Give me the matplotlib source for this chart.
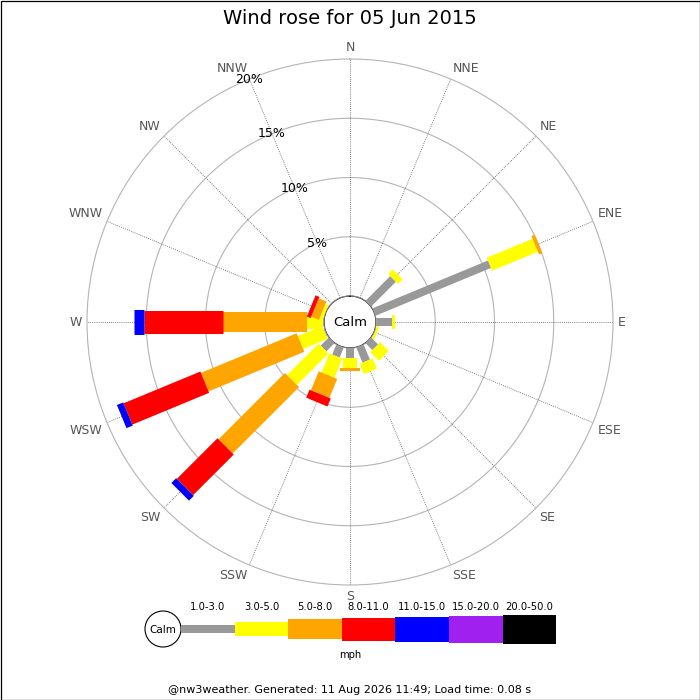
import numpy as np
import matplotlib
matplotlib.use('Agg')
import matplotlib.pyplot as plt
from matplotlib.patches import Circle, Rectangle

# wind rose for 05 Jun 2015, % of time per direction and speed class (mph)
directions = ['N', 'NNE', 'NE', 'ENE', 'E', 'ESE', 'SE', 'SSE',
              'S', 'SSW', 'SW', 'WSW', 'W', 'WNW', 'NW', 'NNW']
speed_bins = ['1.0-3.0', '3.0-5.0', '5.0-8.0', '8.0-11.0',
              '11.0-15.0', '15.0-20.0', '20.0-50.0']

pct_1_3   = [0, 0, 2.95, 10.55, 1.37, 0.05, 0.82, 1.38, 0.87, 0.92, 0.97, 0.10, 0.10, 0, 0, 0]
pct_3_5   = [0, 0, 0.55, 4.18, 0.23, 0.20, 1.03, 0.93, 0.84, 1.74, 3.76, 2.23, 1.35, 0.30, 0, 0]
pct_5_8   = [0, 0, 0, 0.30, 0, 0, 0, 0, 0.19, 1.73, 7.92, 8.74, 7.05, 0.70, 0, 0]
pct_8_11  = [0, 0, 0, 0, 0, 0, 0, 0, 0, 0.73, 4.85, 7.02, 6.70, 0.35, 0, 0]
pct_11_15 = [0, 0, 0, 0, 0, 0, 0, 0, 0, 0, 0.57, 0.57, 0.80, 0, 0, 0]
pct_15_20 = [0] * 16
pct_20_50 = [0] * 16
table = [pct_1_3, pct_3_5, pct_5_8, pct_8_11, pct_11_15, pct_15_20, pct_20_50]

ring_pcts = [5, 10, 15, 20]

colours = ['#999999', '#ffff00', '#ffa500', '#ff0000', '#0000ff', '#a020f0', '#000000']
bar_px = [8, 14, 20, 23, 25, 27, 29]   # bar thickness per class, pixels

W_PX = 700
fig = plt.figure(figsize=(7, 7), dpi=100)

# polar area: centre (350,322), outer ring radius 263 px, calm circle 26 px
R_PX, CALM_PX = 263, 26
rmax = 20
calm_r = rmax * CALM_PX / (R_PX - CALM_PX)
ax = fig.add_axes([(350 - R_PX) / W_PX, (W_PX - 322 - R_PX) / W_PX,
                   2 * R_PX / W_PX, 2 * R_PX / W_PX], projection='polar')
ax.set_theta_zero_location('N')
ax.set_theta_direction(-1)
ax.set_ylim(0, rmax)
ax.set_rorigin(-calm_r)
ax.set_xticks([])
ax.set_yticks([])
ax.grid(False)
ax.patch.set_alpha(0)
ax.spines['polar'].set_color('#b4b4b4')
ax.spines['polar'].set_linewidth(0.8)
for sp in ['inner', 'start', 'end']:
    if sp in ax.spines:
        ax.spines[sp].set_visible(False)

thetas = np.deg2rad(np.arange(16) * 22.5)
circ = np.linspace(0, 2 * np.pi, 400)
for r in ring_pcts[:-1]:
    ax.plot(circ, [r] * len(circ), color='#b4b4b4', lw=0.8, zorder=1)

for th in thetas:
    ax.plot([th, th], [0, rmax], color='#555555', lw=0.6,
            ls=(0, (1, 1.5)), zorder=1)

# bars
for i, th in enumerate(thetas):
    base = 0
    for k in range(len(table)):
        v = table[k][i]
        if v <= 0:
            continue
        ax.plot([th, th], [base, base + v], color=colours[k],
                lw=bar_px[k] * 0.72, solid_capstyle='butt', zorder=3)
        base += v

# calm circle
ax.add_patch(Circle((0.5, 0.5), CALM_PX / (2 * R_PX), transform=ax.transAxes,
                    facecolor='white', edgecolor='#aaaaaa', lw=0.8, zorder=5))
ax.text(0.5, 0.5, 'Calm', transform=ax.transAxes, ha='center', va='center',
        fontsize=9.5, zorder=6)

# direction labels
lab_r = rmax + 0.4
for name, th in zip(directions, thetas):
    s, c = np.sin(th), np.cos(th)
    ha = 'left' if s > 0.1 else ('right' if s < -0.1 else 'center')
    va = 'bottom' if c > 0.1 else ('top' if c < -0.1 else 'center')
    ax.text(th, lab_r, name, ha=ha, va=va, fontsize=9, color='#555555',
            clip_on=False)

# radial labels along NNW
for r in ring_pcts:
    ax.text(thetas[15], r, f'{r}%', ha='center', va='center', fontsize=9,
            zorder=7, clip_on=False)

# overlay in pixel coordinates for title, legend, footer
ov = fig.add_axes([0, 0, 1, 1])
ov.set_xlim(0, W_PX)
ov.set_ylim(W_PX, 0)
ov.axis('off')

ov.text(350, 18, 'Wind rose for 05 Jun 2015', ha='center', va='center', fontsize=14)

ov.add_patch(Circle((163, 629), 18, facecolor='white', edgecolor='black', lw=0.8))
ov.text(163, 630, 'Calm', ha='center', va='center', fontsize=7.5)
x0, seg = 181, 53.6
for k, lab in enumerate(speed_bins):
    h = bar_px[k]
    ov.add_patch(Rectangle((x0 + k * seg, 629 - h / 2), seg, h,
                           facecolor=colours[k], edgecolor='none'))
    ov.text(x0 + (k + 0.5) * seg, 607, lab, ha='center', va='center', fontsize=7.2)
ov.text(350, 655, 'mph', ha='center', va='center', fontsize=7.2)

ov.text(350, 690, '@nw3weather. Generated: 11 Aug 2026 11:49; Load time: 0.08 s',
        ha='center', va='center', fontsize=8)

ov.add_patch(Rectangle((0.5, 0.5), W_PX - 1, W_PX - 1, fill=False,
                       edgecolor='black', lw=0.9))

fig.savefig('out.png', dpi=100)
